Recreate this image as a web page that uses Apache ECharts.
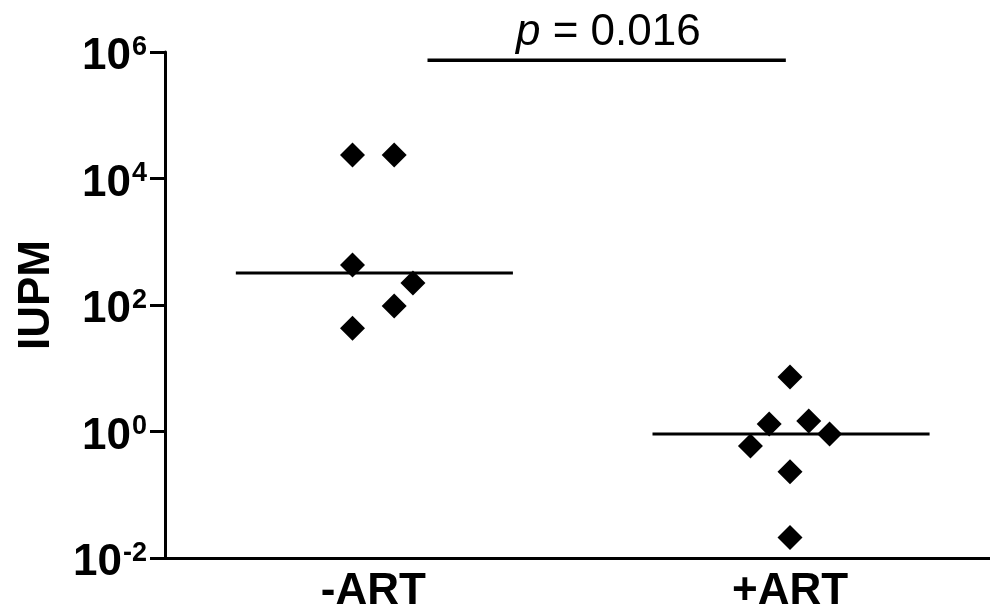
<!DOCTYPE html>
<html>
<head>
<meta charset="utf-8">
<script src="https://cdn.jsdelivr.net/npm/echarts@6/dist/echarts.min.js"></script>
<style>
  html, body { margin: 0; padding: 0; background: #fff; }
  #chart { width: 990px; height: 610px; }
</style>
</head>
<body>
<div id="chart"></div>
<script>
// groups on the x axis (placed at 1 and 3)
const categories = ['-ART', '+ART'];
const categoryPos = [1, 3];

// IUPM values
const minusArt = [23500, 23500, 428, 223, 96, 43];
const minusArtJitter = [-0.1, 0.1, -0.1, 0.19, 0.1, -0.1];
const plusArt = [7.3, 1.31, 1.47, 0.91, 0.59, 0.23, 0.021];
const plusArtJitter = [0, -0.1, 0.09, 0.19, -0.19, 0, 0];

// medians
const medians = [320, 0.91];

// significance bracket
const pText = '0.016';
const pLevel = 7.4e5;

const font = '"Liberation Sans", Arial, Helvetica, sans-serif';

const chart = echarts.init(document.getElementById('chart'));

const toPoints = (vals, jitter, center) =>
  vals.map((v, i) => [center + jitter[i], v]);

const medianLine = (i) => {
  const c = categoryPos[i];
  return [[c - 0.66, medians[i]], [c + 0.67, medians[i]]];
};

const option = {
  animation: false,
  backgroundColor: '#fff',
  grid: { left: 165, right: 0, top: 52, bottom: 52, containLabel: false, outerBoundsMode: 'none' },
  xAxis: {
    type: 'value',
    min: 0,
    max: 3.96,
    interval: 1,
    splitLine: { show: false },
    axisLine: { show: true, lineStyle: { color: '#000', width: 3 } },
    axisTick: { show: false },
    axisLabel: {
      margin: 12,
      color: '#000',
      fontFamily: font,
      fontSize: 44,
      fontWeight: 'bold',
      showMaxLabel: false,
      formatter: (v) => {
        const idx = categoryPos.indexOf(v);
        return idx >= 0 ? categories[idx] : '';
      }
    }
  },
  yAxis: {
    type: 'log',
    logBase: 10,
    min: 0.01,
    max: 1e6,
    interval: 2,
    splitNumber: 4,
    name: 'IUPM',
    nameLocation: 'middle',
    nameRotate: 90,
    nameGap: 106,
    nameTextStyle: { color: '#000', fontFamily: font, fontSize: 44, fontWeight: 'bold', padding: [0, 0, 0, 20] },
    splitLine: { show: false },
    axisLine: { show: true, lineStyle: { color: '#000', width: 3 } },
    axisTick: { show: true, length: 15, lineStyle: { color: '#000', width: 3 } },
    axisLabel: {
      margin: 18,
      color: '#000',
      padding: [10, 0, 0, 0],
      formatter: (v) => '{b|10}{s|' + Math.round(Math.log10(v)) + '}',
      rich: {
        b: { fontFamily: font, fontSize: 44, fontWeight: 'bold', color: '#000', lineHeight: 46 },
        s: { fontFamily: font, fontSize: 27, fontWeight: 'bold', color: '#000', verticalAlign: 'top', lineHeight: 46, padding: [0, 0, 22, 1] }
      }
    }
  },
  series: [
    {
      type: 'scatter',
      symbol: 'diamond',
      symbolSize: [25, 25],
      itemStyle: { color: '#000', opacity: 1 },
      data: toPoints(minusArt, minusArtJitter, categoryPos[0]),
      z: 3
    },
    {
      type: 'scatter',
      symbol: 'diamond',
      symbolSize: [25, 25],
      itemStyle: { color: '#000', opacity: 1 },
      data: toPoints(plusArt, plusArtJitter, categoryPos[1]),
      z: 3
    },
    {
      type: 'line',
      symbol: 'none',
      lineStyle: { color: '#000', width: 3 },
      data: medianLine(0),
      z: 2
    },
    {
      type: 'line',
      symbol: 'none',
      lineStyle: { color: '#000', width: 3 },
      data: medianLine(1),
      z: 2
    },
    {
      type: 'line',
      symbol: 'none',
      lineStyle: { color: '#000', width: 3.5 },
      data: [[1.26, pLevel], [2.98, pLevel]],
      z: 2
    }
  ],
  graphic: [
    {
      type: 'text',
      left: 516,
      top: 11,
      style: {
        text: '{i|p} = ' + pText,
        fill: '#000',
        font: '44px ' + font,
        rich: {
          i: { fontFamily: font, fontSize: 44, fontStyle: 'italic', fill: '#000' }
        }
      }
    }
  ]
};

chart.setOption(option);
</script>
</body>
</html>
